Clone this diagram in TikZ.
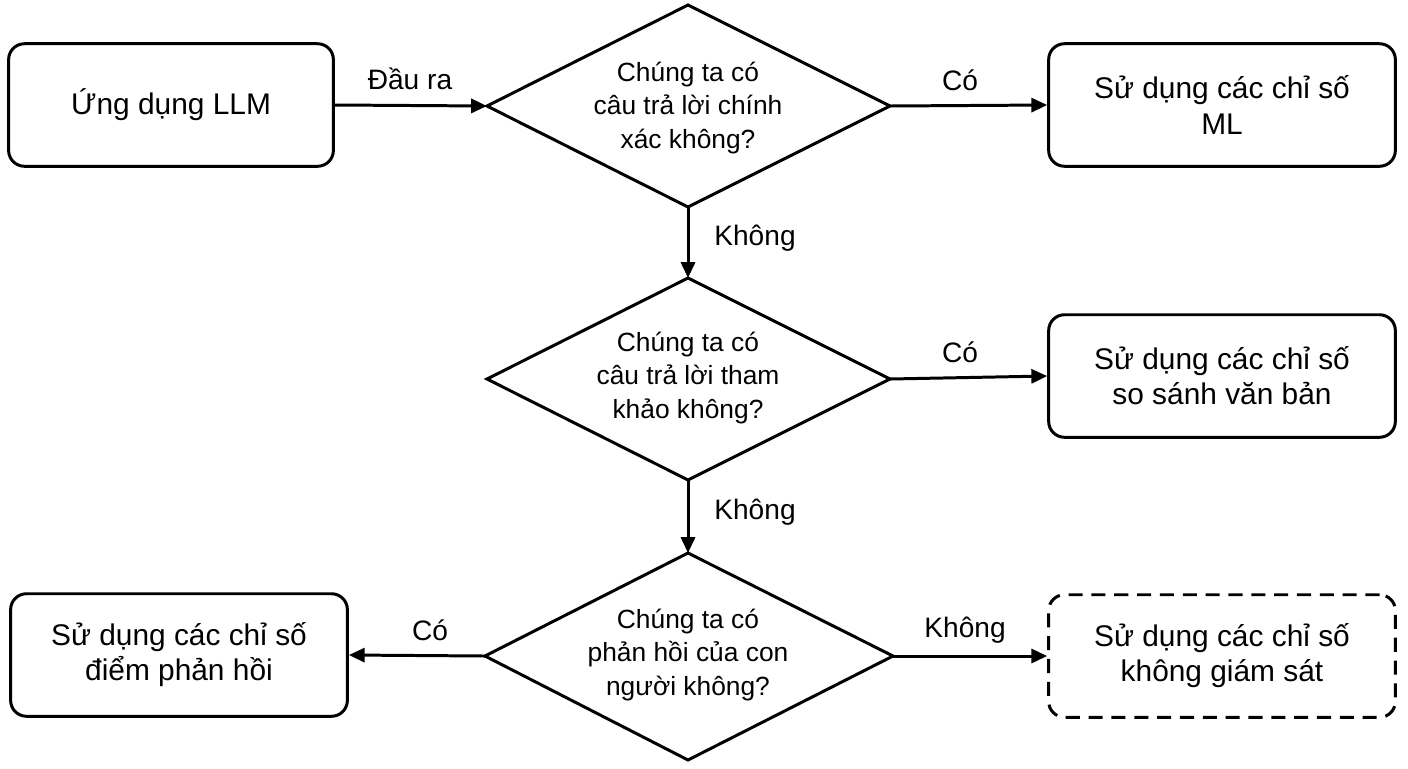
\documentclass[tikz,border=0pt]{standalone}
\usepackage{fontspec}
\setmainfont{Liberation Sans}
\usetikzlibrary{arrows.meta}
\begin{document}
\begin{tikzpicture}[x=0.02cm,y=-0.02cm,
  box/.style={draw,line width=1.7pt,rounded corners=9pt,minimum width=323*0.567pt,minimum height=123*0.567pt,align=center,font=\fontsize{17}{20}\selectfont},
  dia/.style={draw,line width=1.7pt,line join=miter},
  dtext/.style={align=center,font=\fontsize{15}{19}\selectfont},
  lab/.style={font=\fontsize{16}{19}\selectfont},
  arr/.style={line width=1.7pt,-{Triangle[length=9pt,width=8pt]}}]
\useasboundingbox (0,0) rectangle (1408,768);
\node[box,minimum width=326*0.567pt] (llm) at (171,105) {Ứng dụng LLM};
\node[box,minimum width=348*0.567pt] (ml) at (1222,105) {Sử dụng các chỉ số\\ML};
\node[box,minimum width=348*0.567pt] (txt) at (1222,376) {Sử dụng các chỉ số\\so sánh văn bản};
\node[box,minimum width=338*0.567pt] (fb) at (179,655) {Sử dụng các chỉ số\\điểm phản hồi};
\node[box,dashed,dash pattern=on 8pt off 5pt,minimum width=348*0.567pt] (un) at (1222,656) {Sử dụng các chỉ số\\không giám sát};
% diamonds
\coordinate (d1l) at (487,106); \coordinate (d1r) at (890,106);
\coordinate (d1t) at (688,5); \coordinate (d1b) at (688,207);
\coordinate (d2l) at (487,379); \coordinate (d2r) at (890,379);
\coordinate (d2t) at (688,278); \coordinate (d2b) at (688,480);
\coordinate (d3l) at (485,656); \coordinate (d3r) at (893,656);
\coordinate (d3t) at (688,553); \coordinate (d3b) at (688,760);
\draw[dia] (d1l)--(d1t)--(d1r)--(d1b)--cycle;
\draw[dia] (d2l)--(d2t)--(d2r)--(d2b)--cycle;
\draw[dia] (d3l)--(d3t)--(d3r)--(d3b)--cycle;
\node[dtext] (q1) at (688,108) {Chúng ta có\\câu trả lời chính\\xác không?};
\node[dtext] (q2) at (688,378) {Chúng ta có\\câu trả lời tham\\khảo không?};
\node[dtext] (q3) at (688,655) {Chúng ta có\\phản hồi của con\\người không?};
% arrows
\draw[arr] (llm.east) -- (d1l);
\node[lab] (l1) at (410,79) {Đầu ra};
\draw[arr] (d1r) -- (ml.west);
\node[lab] (l2) at (960,80) {Có};
\draw[arr] (d1b) -- (d2t);
\node[lab] (l3) at (755,238) {Không};
\draw[arr] (d2r) -- (txt.west);
\node[lab] (l4) at (960,352) {Có};
\draw[arr] (d2b) -- (d3t);
\node[lab] (l5) at (755,512) {Không};
\draw[arr] (d3l) -- (fb.east);
\node[lab] (l6) at (430,630) {Có};
\draw[arr] (d3r) -- (un.west);
\node[lab] (l7) at (965,630) {Không};
\end{tikzpicture}
\end{document}
